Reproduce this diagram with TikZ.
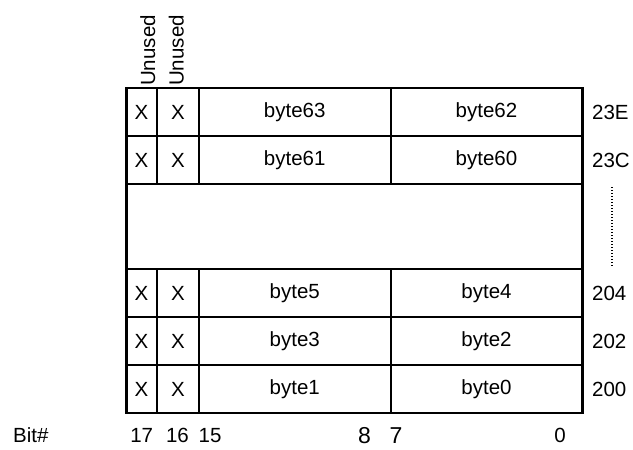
\documentclass[tikz,border=0pt]{standalone}
\usepackage{fontspec}
\setmainfont{Liberation Sans}
\begin{document}
\begin{tikzpicture}[x=1pt,y=-1pt,
  outer/.style={line width=2.8pt},
  inner/.style={line width=2pt},
  txt/.style={inner sep=0pt,font=\fontsize{20.5}{24}\selectfont},
  big/.style={inner sep=0pt,font=\fontsize{23}{27}\selectfont}]
\useasboundingbox (0,0) rectangle (633,450);
% grid
\foreach \yy in {136,184,269,317,365}
  \draw[inner] (126.5,\yy) -- (582.5,\yy);
\foreach \xx in {156.5,199,390.5} {
  \draw[inner] (\xx,88) -- (\xx,184);
  \draw[inner] (\xx,269) -- (\xx,413);
}
\draw[outer] (126.5,88) rectangle (582.5,413);
% header
\node[txt,rotate=90,anchor=base west] (u1) at (155,86) {Unused};
\node[txt,rotate=90,anchor=base west] (u2) at (183.5,86) {Unused};
% rows
\foreach \yy/\a/\b/\n in {112/byte63/byte62/r1,160/byte61/byte60/r2,293/byte5/byte4/r3,341/byte3/byte2/r4,389/byte1/byte0/r5} {
  \node[txt] (\n x1) at (141.5,\yy) {X};
  \node[txt] (\n x2) at (178,\yy) {X};
  \node[txt] (\n hi) at (294.75,\yy) {\a};
  \node[txt] (\n lo) at (486.5,\yy) {\b};
}
\node[txt,anchor=west] (a1) at (592,112) {23E};
\node[txt,anchor=west] (a2) at (592,160) {23C};
\node[txt,anchor=west] (a3) at (592,293) {204};
\node[txt,anchor=west] (a4) at (592,341) {202};
\node[txt,anchor=west] (a5) at (592,389) {200};
\coordinate (d1) at (612,187);
\coordinate (d2) at (612,267);
\draw[line width=2pt,dash pattern=on 1.4pt off 1.6pt] (d1) -- (d2);
% bit numbers
\node[txt,anchor=base west] (bit) at (13,442) {Bit\#};
\node[txt,anchor=base] (b17) at (141.7,442) {17};
\node[txt,anchor=base] (b16) at (177.5,442) {16};
\node[txt,anchor=base west] (b15) at (198.5,442) {15};
\node[big,anchor=base east] (b8) at (371,443) {8};
\node[big,anchor=base west] (b7) at (389.5,443) {7};
\node[txt,anchor=base] (b0) at (560,442) {0};
\end{tikzpicture}
\end{document}
